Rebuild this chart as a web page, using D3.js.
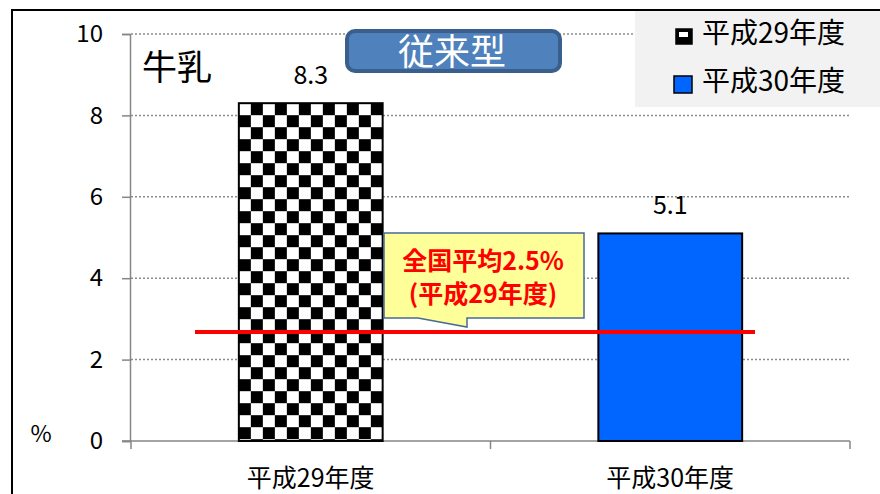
<!DOCTYPE html>
<html>
<head>
<meta charset="utf-8">
<script src="https://cdn.jsdelivr.net/npm/d3@7"></script>
<style>
  body { margin: 0; background: #fff; }
  text { font-family: "Noto Sans CJK JP", "Noto Sans", sans-serif; }
</style>
</head>
<body>
<div id="chart"></div>
<script>
// data
var categories = ["平成29年度", "平成30年度"];
var values = [8.3, 5.1];
var yTicks = [0, 2, 4, 6, 8, 10];
var avgValue = 2.68;   // where the red line sits
var avgLabel = ["全国平均2.5%", "(平成29年度)"];
var itemName = "牛乳";
var typeName = "従来型";

var width = 880, height = 494;

var svg = d3.select("#chart").append("svg")
    .attr("width", width)
    .attr("height", height);

// checker pattern for 平成29年度
var defs = svg.append("defs");
var pat = defs.append("pattern")
    .attr("id", "checker")
    .attr("patternUnits", "userSpaceOnUse")
    .attr("width", 24)
    .attr("height", 24);
pat.append("rect").attr("width", 24).attr("height", 24).attr("fill", "#fff");
pat.append("rect").attr("x", 12).attr("y", 0).attr("width", 12).attr("height", 12).attr("fill", "#000");
pat.append("rect").attr("x", 0).attr("y", 12).attr("width", 12).attr("height", 12).attr("fill", "#000");

var fills = ["url(#checker)", "#0066ff"];

// outer frame
svg.append("path")
    .attr("d", "M12,494 L12,10 L880,10")
    .attr("fill", "none")
    .attr("stroke", "#000")
    .attr("stroke-width", 2);

// scales
var x = d3.scaleBand()
    .domain(categories)
    .range([131, 850])
    .paddingInner(0.6)
    .paddingOuter(0.3);

var y = d3.scaleLinear()
    .domain([0, 10])
    .range([441, 34]);

// gridlines
svg.append("g")
    .selectAll("line")
    .data(yTicks.filter(function(d) { return d > 0; }))
    .enter()
    .append("line")
    .attr("x1", 131)
    .attr("x2", 850)
    .attr("y1", function(d) { return y(d); })
    .attr("y2", function(d) { return y(d); })
    .attr("stroke", "#8c8c8c")
    .attr("stroke-width", 1.5)
    .attr("stroke-dasharray", "2,2");

// y axis
var yAxis = svg.append("g")
    .attr("transform", "translate(130,0)")
    .call(d3.axisLeft(y).tickValues(yTicks).tickSize(8).tickPadding(19).tickFormat(d3.format("d")));
yAxis.select(".domain").attr("stroke", "#868686").attr("stroke-width", 1.5);
yAxis.selectAll(".tick line").attr("stroke", "#868686").attr("stroke-width", 1.5);
yAxis.selectAll(".tick text")
    .attr("font-size", 24)
    .attr("fill", "#000")
    .style("font-family", "'Noto Sans CJK JP', sans-serif");

// x axis line + ticks at band boundaries
var xLine = svg.append("g");
xLine.append("line")
    .attr("x1", 122).attr("x2", 850)
    .attr("y1", y(0)).attr("y2", y(0))
    .attr("stroke", "#868686").attr("stroke-width", 1.5);
var step = x.step();
var bounds = [x.range()[0], x.range()[0] + step, x.range()[1]];
xLine.selectAll("line.tk")
    .data(bounds)
    .enter()
    .append("line")
    .attr("class", "tk")
    .attr("x1", function(d) { return d; })
    .attr("x2", function(d) { return d; })
    .attr("y1", y(0))
    .attr("y2", y(0) + 8)
    .attr("stroke", "#868686").attr("stroke-width", 1.5);

// category labels
svg.selectAll("text.cat")
    .data(categories)
    .enter()
    .append("text")
    .attr("class", "cat")
    .attr("x", function(d) { return x(d) + x.bandwidth() / 2; })
    .attr("y", 487)
    .attr("text-anchor", "middle")
    .attr("font-size", 25)
    .text(function(d) { return d; });

// bars
svg.selectAll("rect.bar")
    .data(values)
    .enter()
    .append("rect")
    .attr("class", "bar")
    .attr("x", function(d, i) { return x(categories[i]); })
    .attr("y", function(d) { return y(d); })
    .attr("width", x.bandwidth())
    .attr("height", function(d) { return y(0) - y(d); })
    .attr("fill", function(d, i) { return fills[i]; })
    .attr("stroke", "#000")
    .attr("stroke-width", 2);

// line the pattern up with the first bar
pat.attr("x", x(categories[0])).attr("y", y(values[0]));

// value labels
svg.selectAll("text.val")
    .data(values)
    .enter()
    .append("text")
    .attr("class", "val")
    .attr("x", function(d, i) { return x(categories[i]) + x.bandwidth() / 2; })
    .attr("y", function(d) { return y(d) - 19; })
    .attr("text-anchor", "middle")
    .attr("font-size", 25)
    .text(function(d) { return d.toFixed(1); });

// % unit
svg.append("text")
    .attr("x", 41)
    .attr("y", 442)
    .attr("text-anchor", "middle")
    .attr("font-size", 23)
    .text("%");

// item name
svg.append("text")
    .attr("x", 142)
    .attr("y", 80)
    .attr("font-size", 35)
    .text(itemName);

// 従来型 button
svg.append("rect")
    .attr("x", 347)
    .attr("y", 31)
    .attr("width", 213)
    .attr("height", 40)
    .attr("rx", 8)
    .attr("fill", "#4f81bd")
    .attr("stroke", "#3b5f8c")
    .attr("stroke-width", 4);
svg.append("text")
    .attr("x", 452)
    .attr("y", 65)
    .attr("text-anchor", "middle")
    .attr("font-size", 36)
    .attr("fill", "#fff")
    .text(typeName);

// legend
var legend = svg.append("g");
legend.append("rect")
    .attr("x", 635).attr("y", 11)
    .attr("width", 245).attr("height", 96)
    .attr("fill", "#f2f2f2");
var legItems = legend.selectAll("g.item")
    .data(categories)
    .enter()
    .append("g")
    .attr("class", "item")
    .attr("transform", function(d, i) { return "translate(0," + (i * 48) + ")"; });
legItems.append("rect")
    .attr("x", function(d, i) { return i === 0 ? 676 : 674; })
    .attr("y", function(d, i) { return i === 0 ? 29 : 28; })
    .attr("width", function(d, i) { return i === 0 ? 16 : 18; })
    .attr("height", function(d, i) { return i === 0 ? 15 : 17; })
    .attr("fill", function(d, i) { return i === 0 ? "#000" : "#0066ff"; })
    .attr("stroke", "#000")
    .attr("stroke-width", 1.5);
legItems.filter(function(d, i) { return i === 0; })
    .append("rect")
    .attr("x", 679).attr("y", 32)
    .attr("width", 9).attr("height", 5)
    .attr("fill", "#fff");
legItems.append("text")
    .attr("x", 702)
    .attr("y", 43)
    .attr("font-size", 28)
    .text(function(d) { return d; });

// national average line
svg.append("line")
    .attr("x1", 195)
    .attr("x2", 755)
    .attr("y1", y(avgValue))
    .attr("y2", y(avgValue))
    .attr("stroke", "#ff0000")
    .attr("stroke-width", 4);

// callout
svg.append("path")
    .attr("d", "M384,233 L584,233 L584,318 L467,318 L467,327 L418,318 L384,318 Z")
    .attr("fill", "#ffff99")
    .attr("stroke", "#4a6a94")
    .attr("stroke-width", 1.5);
svg.selectAll("text.avg")
    .data(avgLabel)
    .enter()
    .append("text")
    .attr("class", "avg")
    .attr("x", 483)
    .attr("y", function(d, i) { return 270 + i * 33; })
    .attr("text-anchor", "middle")
    .attr("font-size", 25)
    .attr("font-weight", "bold")
    .attr("fill", "#ff0000")
    .text(function(d) { return d; });
</script>
</body>
</html>
